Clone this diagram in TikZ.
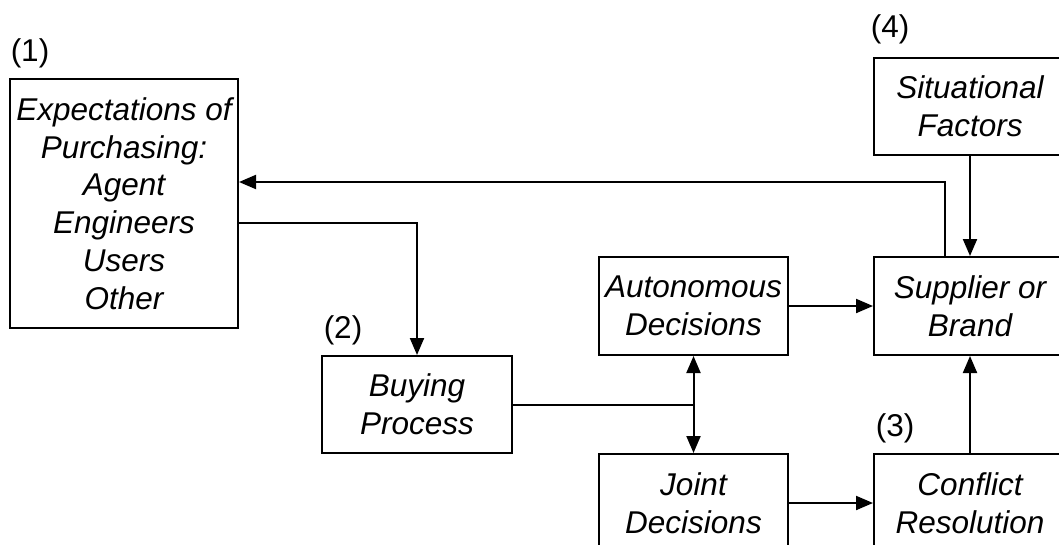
\documentclass[tikz,border=0pt]{standalone}
\usepackage{fontspec}
\setmainfont{Liberation Sans}
\usetikzlibrary{arrows.meta}
\begin{document}
\begin{tikzpicture}[x=1pt,y=-1pt,
  box/.style={draw,line width=2pt,inner sep=0pt,align=center,
    font=\fontsize{31.5}{37.8}\selectfont\itshape},
  tag/.style={inner sep=0pt,font=\fontsize{31.5}{37.8}\selectfont},
  link/.style={line width=2pt},
  arr/.style={link,-{Triangle[length=17pt,width=14pt]}},
  dbl/.style={link,{Triangle[length=17pt,width=14pt]}-{Triangle[length=17pt,width=14pt]}}]
\useasboundingbox (0,0) rectangle (1059,544);

% boxes
\node[box,minimum width=228pt,minimum height=249pt] (exp) at (124,203.5)
  {Expectations of\\Purchasing:\\Agent\\Engineers\\Users\\Other};
\node[box,minimum width=190pt,minimum height=97pt] (buy) at (417,404.5)
  {Buying\\Process};
\node[box,minimum width=189pt,minimum height=98pt] (aut) at (693.5,306)
  {Autonomous\\Decisions};
\node[box,minimum width=189pt,minimum height=98pt] (joi) at (693.5,503)
  {Joint\\Decisions};
\node[box,minimum width=192pt,minimum height=98pt] (sup) at (970,306)
  {Supplier or\\Brand};
\node[box,minimum width=192pt,minimum height=97pt] (sit) at (970,106.5)
  {Situational\\Factors};
\node[box,minimum width=192pt,minimum height=98pt] (con) at (970,503)
  {Conflict\\Resolution};

% numbered tags
\node[tag] (t1) at (30,53) {(1)};
\node[tag] (t2) at (343,330) {(2)};
\node[tag] (t3) at (895,428) {(3)};
\node[tag] (t4) at (890,29) {(4)};

% routing points
\coordinate (fb) at (945,182);
\coordinate (out) at (417,223);

% connectors
\draw[arr] (sit.south) -- (sup.north);
\draw[arr] (sup.north -| fb) -- (fb) -- (exp.east |- fb);
\draw[arr] (exp.east |- out) -- (out) -- (buy.north);
\draw[link] (buy.east) -- (buy.east -| aut.south);
\draw[dbl] (aut.south) -- (joi.north);
\draw[arr] (aut.east) -- (sup.west);
\draw[arr] (joi.east) -- (con.west);
\draw[arr] (con.north) -- (sup.south);
\end{tikzpicture}
\end{document}
